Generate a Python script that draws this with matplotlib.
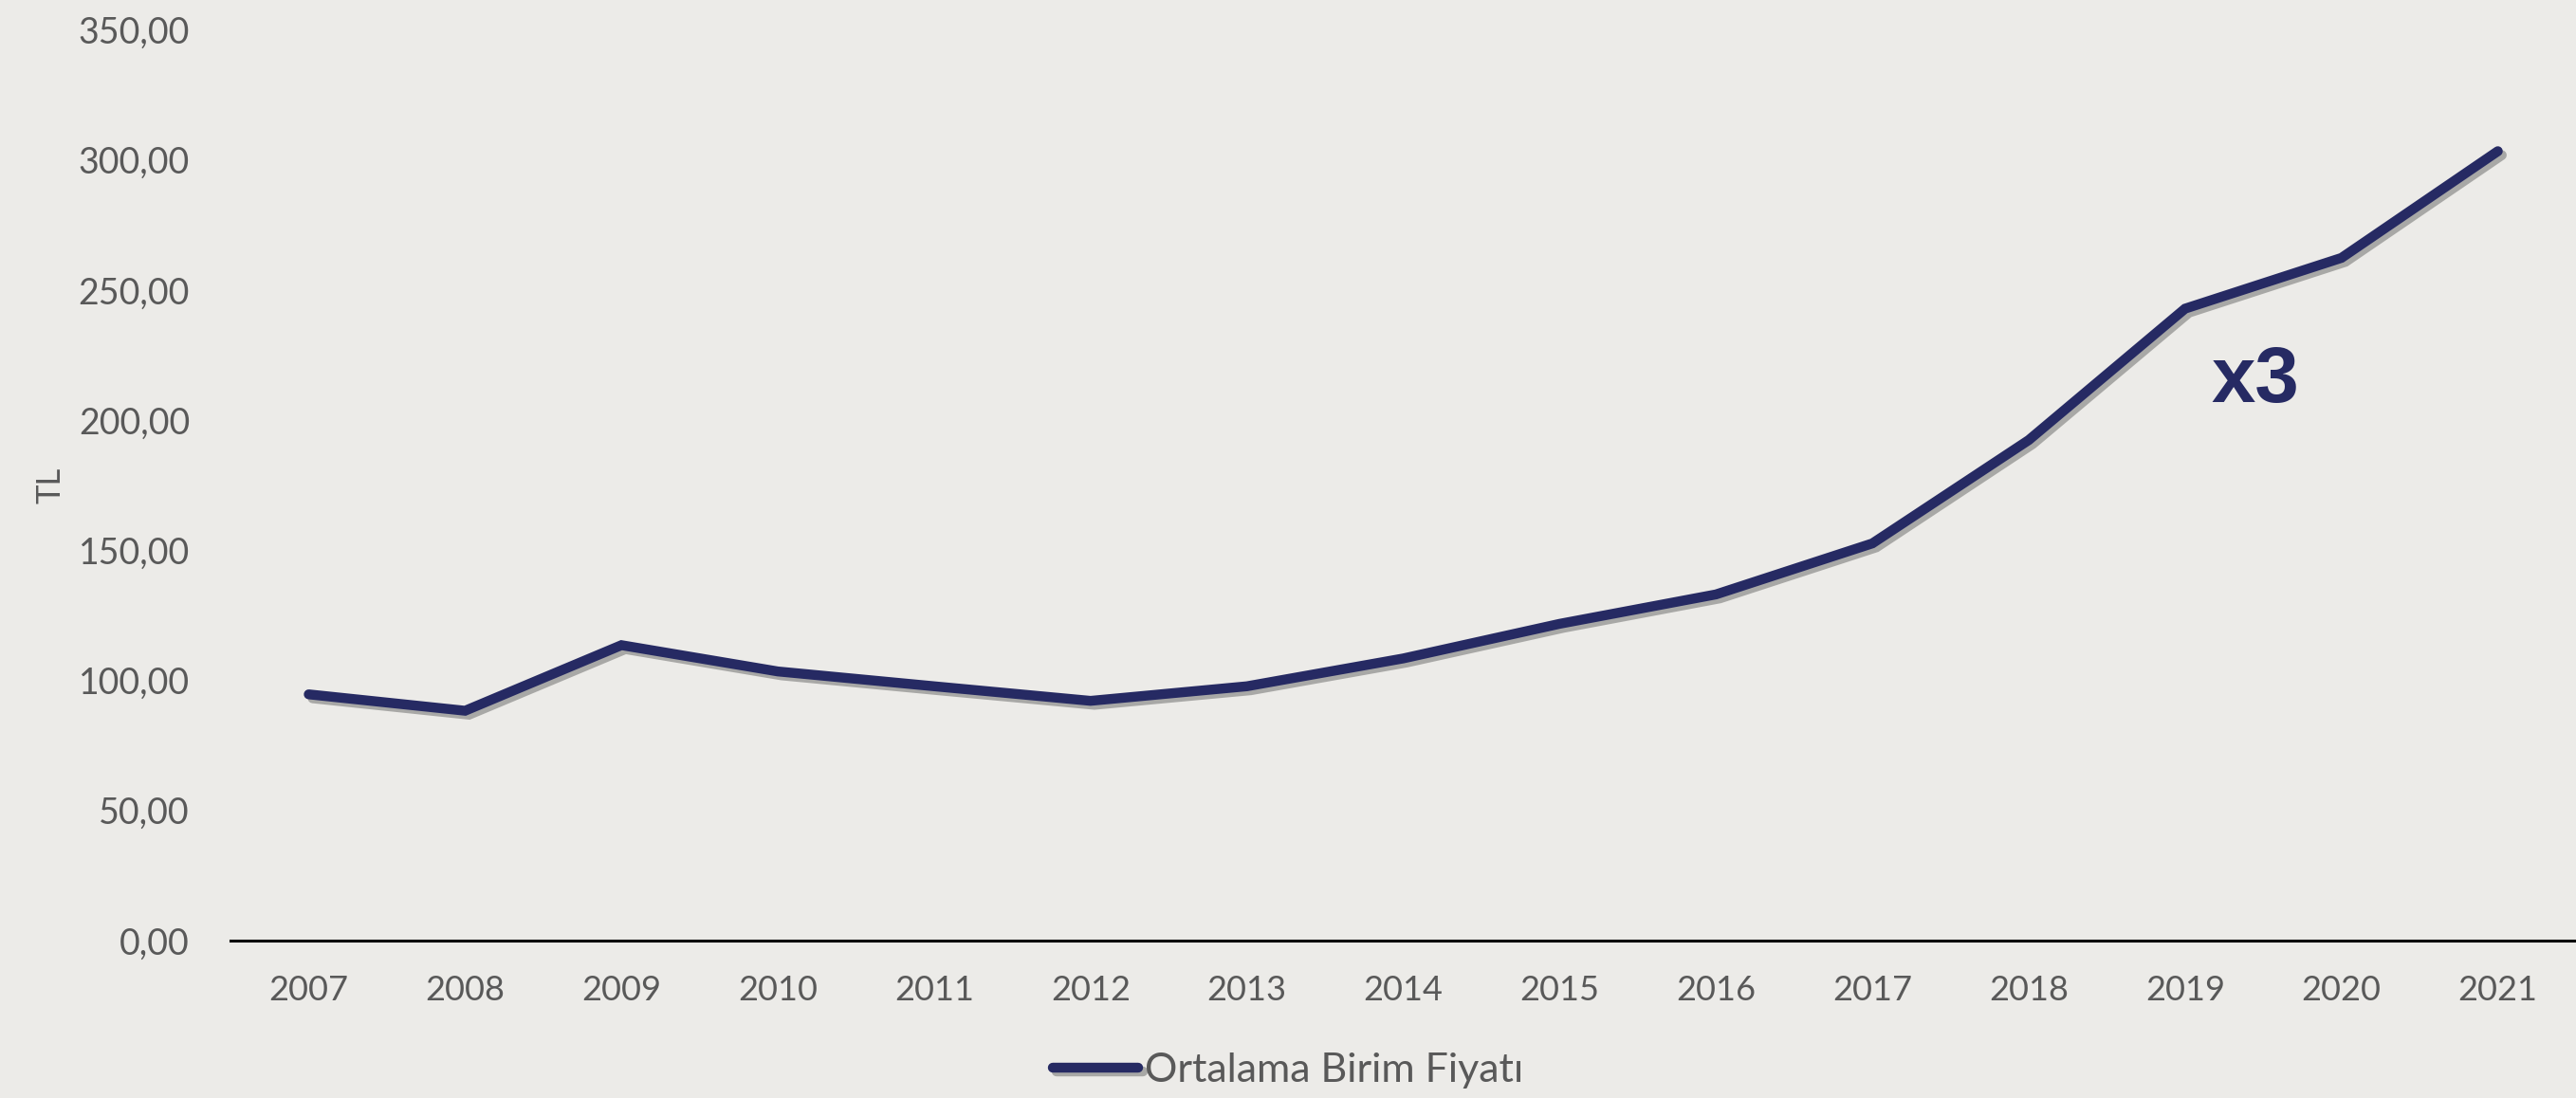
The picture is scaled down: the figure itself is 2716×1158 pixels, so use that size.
import matplotlib
matplotlib.use("Agg")
import matplotlib.pyplot as plt
import matplotlib.patheffects as pe
from matplotlib.ticker import FuncFormatter

# data
years = ["2007", "2008", "2009", "2010", "2011", "2012", "2013", "2014",
         "2015", "2016", "2017", "2018", "2019", "2020", "2021"]
prices = [94.6, 88.3, 113.5, 103.4, 97.7, 92.1, 97.7, 108.4,
          121.7, 133.0, 152.6, 192.3, 242.8, 262.3, 303.3]
series_name = "Ortalama Birim Fiyatı"
y_ticks = [0, 50, 100, 150, 200, 250, 300, 350]

navy = "#262A63"
grey = "#595959"
paper = "#ECEBE8"

plt.rcParams["font.family"] = ["Lato", "DejaVu Sans"]

fig = plt.figure(figsize=(27.16, 11.58), dpi=100)
fig.patch.set_facecolor(paper)
ax = fig.add_axes([0.0895, 0.1434, 0.9105, 0.8296])
ax.set_facecolor(paper)

x = list(range(len(years)))
ax.plot(x, prices, color=navy, linewidth=7.5, solid_capstyle="round",
        solid_joinstyle="miter", label=series_name,
        path_effects=[pe.SimpleLineShadow(offset=(3, -3), alpha=0.4, shadow_color="#444444"),
                      pe.Normal()])

ax.set_xlim(-0.5, len(years) - 0.5)
ax.set_ylim(0, 350)
ax.set_xticks(x)
ax.set_xticklabels(years)
ax.set_yticks(y_ticks)
ax.yaxis.set_major_formatter(FuncFormatter(lambda v, p: f"{v:.2f}".replace(".", ",")))
ax.tick_params(axis="both", length=0, colors=grey)
ax.tick_params(axis="y", pad=31, labelsize=27)
ax.tick_params(axis="x", pad=26, labelsize=26)

for s in ["top", "right", "left"]:
    ax.spines[s].set_visible(False)
ax.spines["bottom"].set_color("black")
ax.spines["bottom"].set_linewidth(2.2)

ax.set_ylabel("TL", fontsize=25, color=grey)
ax.yaxis.set_label_coords(-0.07, 0.5)

ax.text(12.45, 215, "x3", fontsize=60, fontweight="bold", color=navy,
        family=["Liberation Sans", "DejaVu Sans"], ha="center", va="center")

leg = fig.legend(loc="center", bbox_to_anchor=(0.5, 0.025), frameon=False,
                 fontsize=31, handlelength=2.1, handletextpad=0.15, labelcolor=grey)

fig.savefig("out.png", dpi=100, facecolor=paper)
